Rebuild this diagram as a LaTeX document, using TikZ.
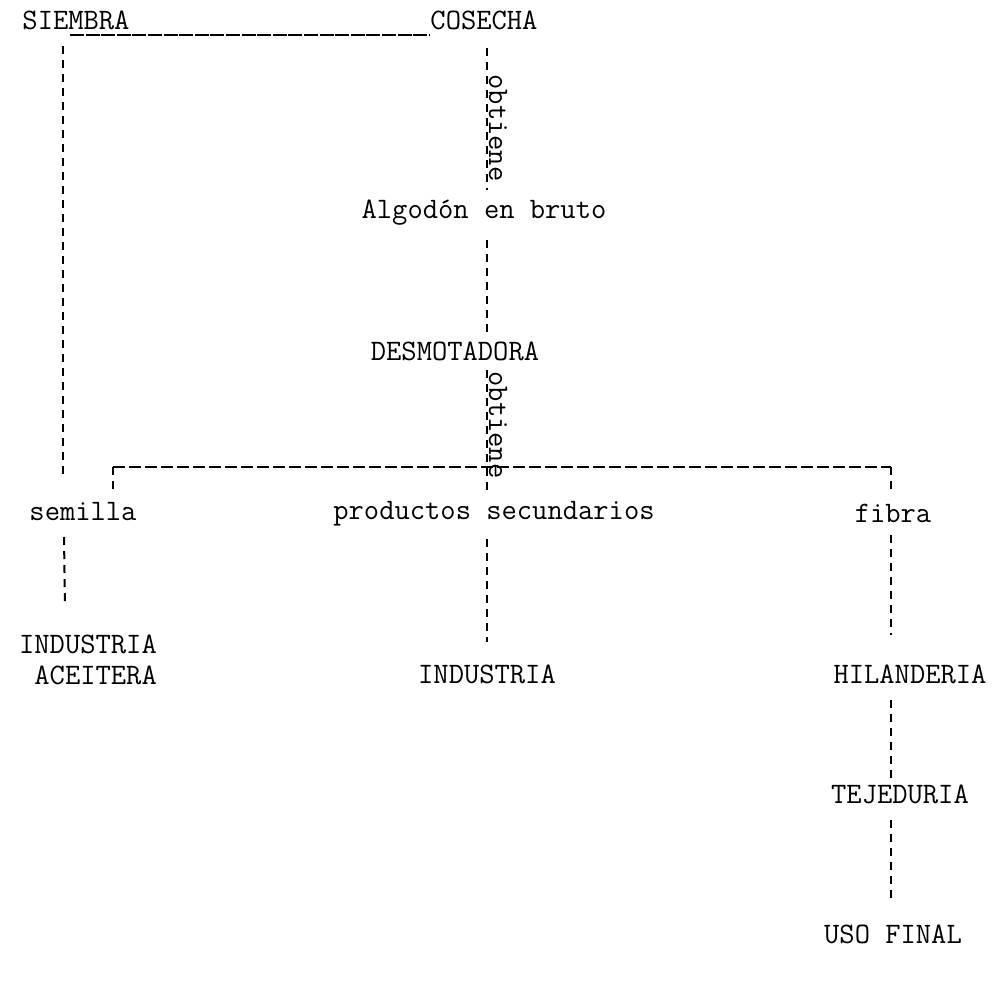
\documentclass[tikz,border=0pt]{standalone}
\usepackage{fontspec}
\usepackage{tikz}

\begin{document}
\begin{tikzpicture}[x=1pt,y=1pt]
			\tikzstyle{val} = [inner sep=0pt, anchor=base, font=\ttfamily\addfontfeatures{FakeBold=1.2}\fontsize{29.7}{31}\selectfont]
			\tikzstyle{lbl} = [val, rotate=-90]
			\tikzset{vedge/.style = {line width=2pt, dash pattern=on 8pt off 6pt}}
			\tikzset{hedge/.style = {line width=1.8pt, dash pattern=on 12pt off 4pt}}
			\tikzset{uedge/.style = {line width=1.4pt, dash pattern=on 14pt off 1.6pt}}
			
			\useasboundingbox (0,0) rectangle (1004,-983);
			
			\node[val](siembra) at (76,-29) {SIEMBRA};
			\node[val](cosecha) at (484,-29) {COSECHA};
			\node[val](algodon) at (484,-218) {Algodón en bruto};
			\node[val](desmot) at (455,-360) {DESMOTADORA};
			\node[val](semilla) at (83,-520) {semilla};
			\node[val](prod) at (494,-519) {productos  secundarios};
			\node[val](fibra) at (893,-522) {fibra};
			\node[val, anchor=north east, align=right](indaceit) at (157,-635) {INDUSTRIA\\ACEITERA};
			\node[val](indus) at (487,-683) {INDUSTRIA};
			\node[val](hiland) at (910,-683) {HILANDERIA};
			\node[val](tejed) at (900,-803) {TEJEDURIA};
			\node[val](usofinal) at (893,-943) {USO FINAL};
			
			\node[lbl](obt1) at (489,-128) {obtiene};
			\node[lbl](obt2) at (489,-425) {obtiene};
			
			\coordinate (jl) at (113,-467);
			\coordinate (jr) at (891,-467);
			
			\draw[uedge] ([shift={(-6,-6)}]siembra.base) -- ([yshift=-6]cosecha.base west);
			\draw[vedge] ([shift={(-13,-17)}]siembra.base) -- ([shift={(-20,43)}]semilla.base);
			\draw[vedge] ([shift={(3,-19)}]cosecha.base) -- ([shift={(3,28)}]algodon.base);
			\draw[vedge] ([shift={(3,-22)}]algodon.base) -- ([shift={(32,25)}]desmot.base);
			\draw[vedge] ([shift={(32,-10)}]desmot.base) -- ([shift={(-7,26)}]prod.base);
			\draw[hedge] (jl) -- (jr);
			\draw[vedge] (jl) -- ([shift={(30,27)}]semilla.base);
			\draw[vedge] (jr) -- ([shift={(-2,29)}]fibra.base);
			\draw[vedge] ([shift={(-19,-17)}]semilla.base) -- ([shift={(-23,30)}]indaceit.north);
			\draw[vedge] ([shift={(-7,-20)}]prod.base) -- ([shift={(0,41)}]indus.base);
			\draw[vedge] ([shift={(-2,-13)}]fibra.base) -- ([shift={(-19,48)}]hiland.base);
			\draw[vedge] ([shift={(-19,-17)}]hiland.base) -- ([shift={(-9,23)}]tejed.base);
			\draw[vedge] ([shift={(-9,-17)}]tejed.base) -- ([shift={(-2,45)}]usofinal.base);
\end{tikzpicture}
\end{document}
